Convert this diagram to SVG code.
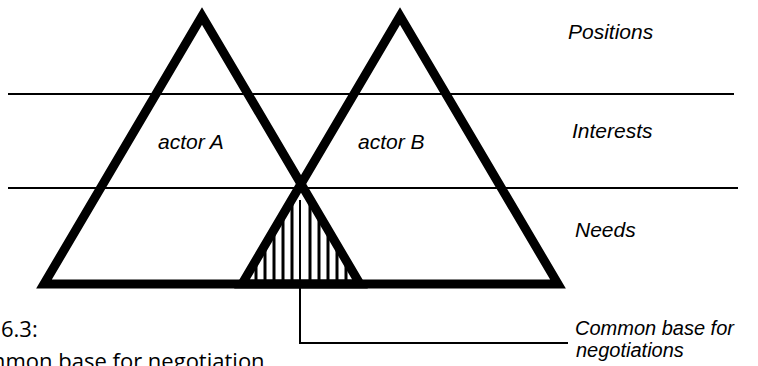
<svg xmlns="http://www.w3.org/2000/svg" width="758" height="366" viewBox="0 0 758 366">
<style>
.tri{fill:none;stroke:#000;stroke-width:9;stroke-linejoin:miter}
.band{stroke:#000;stroke-width:2.2}
.hatch{stroke:#000;stroke-width:3}
.conn{fill:none;stroke:#000;stroke-width:2}
.lbl{font-family:"Liberation Sans",Arial,sans-serif;font-style:italic;font-size:21px;fill:#000}
.note{font-family:"Liberation Sans",Arial,sans-serif;font-style:italic;font-size:20px;fill:#000}
.cap{font-family:"Open Sans","Noto Sans",sans-serif;font-size:22px;fill:#000}
</style>
<defs>
<clipPath id="common"><polygon points="301,184 242,284 360,284"/></clipPath>
</defs>
<rect width="758" height="366" fill="#fff"/>
<g id="levels">
<line class="band" x1="8" y1="94" x2="734" y2="94"/>
<line class="band" x1="8" y1="188" x2="738" y2="188"/>
</g>
<g id="common-base">
<g clip-path="url(#common)">
<line class="hatch" x1="256" y1="180" x2="256" y2="290"/>
<line class="hatch" x1="265" y1="180" x2="265" y2="290"/>
<line class="hatch" x1="274" y1="180" x2="274" y2="290"/>
<line class="hatch" x1="283" y1="180" x2="283" y2="290"/>
<line class="hatch" x1="292" y1="180" x2="292" y2="290"/>
<line class="hatch" x1="310" y1="180" x2="310" y2="290"/>
<line class="hatch" x1="319" y1="180" x2="319" y2="290"/>
<line class="hatch" x1="328" y1="180" x2="328" y2="290"/>
<line class="hatch" x1="337" y1="180" x2="337" y2="290"/>
<line class="hatch" x1="346" y1="180" x2="346" y2="290"/>
</g>
</g>
<g id="actorA">
<polygon class="tri" points="202,16 44,284 360,284"/>
<text class="lbl" x="158" y="149">actor A</text>
</g>
<g id="actorB">
<polygon class="tri" points="400,16 242,284 558,284"/>
<text class="lbl" x="358" y="149">actor B</text>
</g>
<g id="connectors">
<polyline class="conn" points="300,200 300,343 568,343"/>
</g>
<g id="labels">
<text class="lbl" x="568" y="39">Positions</text>
<text class="lbl" x="572" y="138">Interests</text>
<text class="lbl" x="575" y="237">Needs</text>
<text class="note" x="575" y="335">Common base for</text>
<text class="note" x="576" y="357">negotiations</text>
</g>
<g id="caption">
<text class="cap" x="1" y="337">6.3:</text>
<text class="cap" x="-42" y="369">Common base for negotiation</text>
</g>
</svg>
